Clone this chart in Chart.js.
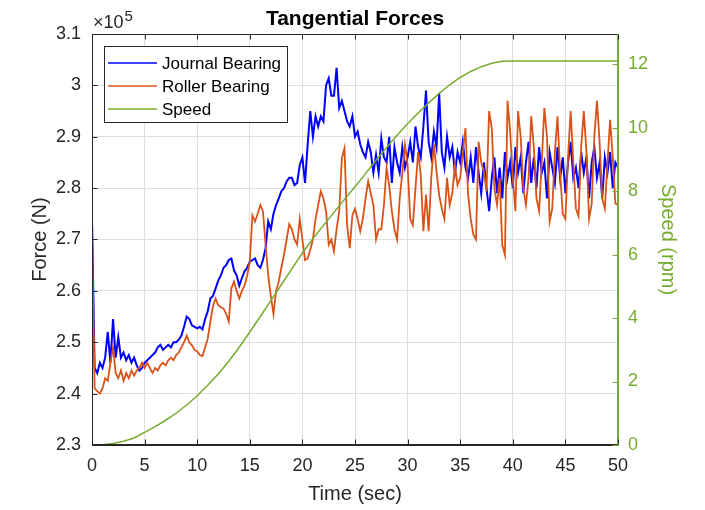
<!DOCTYPE html>
<html>
<head>
<meta charset="utf-8">
<script src="https://cdn.jsdelivr.net/npm/chart.js@4.4.0/dist/chart.umd.min.js"></script>
<style>
  html, body { margin: 0; padding: 0; background: #fff; }
</style>
</head>
<body>
<canvas id="forceChart" width="705" height="510"></canvas>
<script>
// Force samples every 0.25 s, in units of 1e5 N (axis shows x10^5)
const sampleStep = 0.25;
const journalBearing = [
  2.74, 2.45, 2.44, 2.46,     2.45, 2.47, 2.52, 2.46,     2.545, 2.47, 2.51, 2.47,
  2.48, 2.465, 2.475, 2.46,   2.47, 2.455, 2.445, 2.45,   2.46, 2.465, 2.47, 2.475,
  2.48, 2.49, 2.495, 2.485,   2.49, 2.495, 2.49, 2.5,     2.5, 2.505, 2.513, 2.53,
  2.55, 2.545, 2.533, 2.53,   2.527, 2.53, 2.525, 2.545,  2.56, 2.585, 2.59, 2.605,
  2.62, 2.63, 2.645, 2.65,    2.66, 2.663, 2.64, 2.63,    2.61, 2.625, 2.638, 2.645,
  2.657, 2.66, 2.663, 2.65,   2.645, 2.66, 2.683, 2.735,  2.72, 2.75, 2.767, 2.78,
  2.794, 2.8, 2.813, 2.82,    2.82, 2.806, 2.81, 2.845,   2.86, 2.81, 2.885, 2.95,
  2.9, 2.94, 2.92, 2.94,      2.93, 3.0, 3.014, 2.98,     2.98, 3.034, 2.956, 2.97,
  2.95, 2.93, 2.92, 2.94,     2.9, 2.91, 2.885, 2.87,     2.86, 2.89, 2.87, 2.83,
  2.865, 2.83, 2.897, 2.86,   2.85, 2.9, 2.81, 2.88,      2.85, 2.83, 2.88, 2.84,
  2.86, 2.89, 2.85, 2.92,     2.88, 2.86, 2.92, 2.99,     2.89, 2.86, 2.91, 2.88,
  2.985, 2.87, 2.84, 2.9,     2.86, 2.88, 2.83, 2.87,     2.85, 2.89, 2.84, 2.82,
  2.86, 2.81, 2.88, 2.83,     2.79, 2.85, 2.8, 2.755,     2.82, 2.86, 2.79, 2.84,
  2.78, 2.87, 2.82, 2.85,     2.8, 2.88, 2.83, 2.86,      2.79, 2.85, 2.89, 2.81,
  2.86, 2.8, 2.88, 2.83,      2.85, 2.78, 2.87, 2.84,     2.81, 2.88, 2.82, 2.86,
  2.79, 2.85, 2.89, 2.82,     2.84, 2.8, 2.87, 2.83,      2.86, 2.78, 2.85, 2.88,
  2.82, 2.85, 2.78, 2.86,     2.83, 2.87, 2.8, 2.85,
  2.84
];
const rollerBearing = [
  2.72, 2.41, 2.405, 2.4,     2.41, 2.43, 2.425, 2.46,    2.49, 2.44, 2.43, 2.445,
  2.425, 2.44, 2.43, 2.445,   2.435, 2.445, 2.45, 2.46,   2.45, 2.46, 2.45, 2.44,
  2.45, 2.445, 2.455, 2.46,   2.455, 2.465, 2.47, 2.465,  2.475, 2.48, 2.49, 2.5,
  2.513, 2.5, 2.494, 2.485,   2.482, 2.475, 2.473, 2.49,  2.507, 2.54, 2.57, 2.585,
  2.572, 2.568, 2.566, 2.555, 2.54, 2.605, 2.618, 2.6,    2.585, 2.6, 2.61, 2.63,
  2.657, 2.747, 2.735, 2.75,  2.767, 2.755, 2.69, 2.63,   2.59, 2.555, 2.6, 2.618,
  2.645, 2.67, 2.7, 2.73,     2.72, 2.7, 2.69, 2.74,      2.7, 2.66, 2.663, 2.68,
  2.7, 2.74, 2.767, 2.794,    2.78, 2.755, 2.69, 2.7,     2.677, 2.72, 2.755, 2.858,
  2.878, 2.728, 2.683, 2.747, 2.76, 2.74, 2.716, 2.741,   2.78, 2.813, 2.79, 2.767,
  2.7, 2.72, 2.72, 2.767,     2.839, 2.806, 2.755, 2.72,  2.7, 2.78, 2.83, 2.885,
  2.845, 2.74, 2.728, 2.8,    2.87, 2.826, 2.716, 2.787,  2.716, 2.82, 2.885, 2.832,
  2.787, 2.76, 2.74, 2.82,    2.767, 2.79, 2.845, 2.806,  2.82, 2.87, 2.917, 2.787,
  2.74, 2.71, 2.7, 2.89,      2.85, 2.832, 2.794, 2.95,   2.917, 2.8, 2.767, 2.82,
  2.69, 2.67, 2.97, 2.91,     2.82, 2.755, 2.95, 2.9,     2.8, 2.767, 2.82, 2.94,
  2.88, 2.78, 2.755, 2.85,    2.956, 2.9, 2.735, 2.76,    2.87, 2.94, 2.83, 2.75,
  2.74, 2.86, 2.95, 2.85,     2.76, 2.745, 2.88, 2.95,    2.87, 2.74, 2.77, 2.9,
  2.97, 2.89, 2.78, 2.76,     2.85, 2.933, 2.86, 2.77,
  2.767
];
// Speed in rpm, one value per second from 0 to 50 s
const speedRpm = [
  0, 0.01, 0.05, 0.12, 0.22, 0.4, 0.58, 0.78, 1.0, 1.26,
  1.55, 1.88, 2.24, 2.64, 3.08, 3.56, 4.05, 4.55, 5.05, 5.55,
  6.05, 6.5, 6.92, 7.33, 7.74, 8.14, 8.55, 8.97, 9.37, 9.76,
  10.12, 10.46, 10.78, 11.08, 11.35, 11.58, 11.77, 11.92, 12.03, 12.09,
  12.1, 12.1, 12.1, 12.1, 12.1, 12.1, 12.1, 12.1, 12.1, 12.1,
  12.1
];
const seriesNames = ['Journal Bearing', 'Roller Bearing', 'Speed'];
const seriesColors = ['#0000FF', '#D95319', '#77AC30'];
const forceTicks = [2.3, 2.4, 2.5, 2.6, 2.7, 2.8, 2.9, 3.0, 3.1];
const speedTicks = [0, 2, 4, 6, 8, 10, 12];
const timeTicks = [0, 5, 10, 15, 20, 25, 30, 35, 40, 45, 50];

const axisColor = '#262626';
const gridColor = '#dedede';
const fontFamily = '"Liberation Sans", Arial, Helvetica, sans-serif';

function toPoints(values, step) {
  return values.map((v, i) => ({ x: i * step, y: v }));
}

// axes box, inward tick marks, title, exponent and legend, drawn matlab style
const matlabFrame = {
  id: 'matlabFrame',
  afterDatasetsDraw(chart) {
    const { ctx, chartArea: a, scales } = chart;
    const L = Math.round(a.left) + 0.5, R = Math.round(a.right) - 0.5;
    const T = Math.round(a.top) + 0.5, B = Math.round(a.bottom) - 0.5;
    const tl = 5;
    ctx.save();
    ctx.lineWidth = 1;

    ctx.strokeStyle = axisColor;
    ctx.beginPath();
    ctx.moveTo(L, T); ctx.lineTo(R, T);
    ctx.moveTo(L, B); ctx.lineTo(R, B);
    ctx.moveTo(L, T); ctx.lineTo(L, B);
    timeTicks.forEach(t => {
      const x = Math.round(scales.x.getPixelForValue(t)) + 0.5;
      ctx.moveTo(x, B); ctx.lineTo(x, B - tl);
      ctx.moveTo(x, T); ctx.lineTo(x, T + tl);
    });
    forceTicks.forEach(f => {
      const y = Math.round(scales.yForce.getPixelForValue(f)) + 0.5;
      ctx.moveTo(L, y); ctx.lineTo(L + tl, y);
    });
    ctx.stroke();

    ctx.strokeStyle = seriesColors[2];
    ctx.beginPath();
    ctx.moveTo(R, T); ctx.lineTo(R, B);
    speedTicks.forEach(s => {
      const y = Math.round(scales.ySpeed.getPixelForValue(s)) + 0.5;
      ctx.moveTo(R, y); ctx.lineTo(R - tl, y);
    });
    ctx.stroke();
    ctx.restore();
  },
  afterDraw(chart) {
    const { ctx, chartArea: a } = chart;
    ctx.save();

    // title
    ctx.fillStyle = '#000';
    ctx.font = 'bold 21px ' + fontFamily;
    ctx.textAlign = 'center';
    ctx.textBaseline = 'alphabetic';
    ctx.fillText('Tangential Forces', (a.left + a.right) / 2, 25);

    // exponent label
    ctx.fillStyle = axisColor;
    ctx.textAlign = 'left';
    ctx.font = '18px ' + fontFamily;
    ctx.fillText('\u00d710', a.left + 1, 28);
    const w = ctx.measureText('\u00d710').width;
    ctx.font = '15px ' + fontFamily;
    ctx.fillText('5', a.left + 2 + w, 21);

    // legend
    const bx = 104.5, by = 46.5, bw = 183, bh = 76;
    ctx.fillStyle = '#fff';
    ctx.fillRect(bx, by, bw, bh);
    ctx.strokeStyle = axisColor;
    ctx.lineWidth = 1;
    ctx.strokeRect(bx, by, bw, bh);
    ctx.font = '17px ' + fontFamily;
    ctx.textBaseline = 'middle';
    seriesNames.forEach((name, i) => {
      const y = 63 + i * 23;
      ctx.strokeStyle = seriesColors[i];
      ctx.lineWidth = 1.5;
      ctx.beginPath();
      ctx.moveTo(108, y); ctx.lineTo(157, y);
      ctx.stroke();
      ctx.fillStyle = '#000';
      ctx.fillText(name, 162, y + 1);
    });
    ctx.restore();
  }
};

new Chart(document.getElementById('forceChart'), {
  type: 'line',
  data: {
    datasets: [
      {
        label: seriesNames[0],
        data: toPoints(journalBearing, sampleStep),
        yAxisID: 'yForce',
        borderColor: seriesColors[0],
        borderWidth: 2,
        order: 2,
      },
      {
        label: seriesNames[1],
        data: toPoints(rollerBearing, sampleStep),
        yAxisID: 'yForce',
        borderColor: seriesColors[1],
        borderWidth: 1.8,
        order: 1,
      },
      {
        label: seriesNames[2],
        data: toPoints(speedRpm, 1),
        yAxisID: 'ySpeed',
        borderColor: seriesColors[2],
        borderWidth: 1.5,
        order: 0,
      },
    ],
  },
  options: {
    responsive: false,
    animation: false,
    parsing: false,
    elements: { point: { radius: 0 }, line: { tension: 0, fill: false } },
    layout: { padding: { top: 34, left: 0, right: 0, bottom: 0 } },
    plugins: { legend: { display: false }, tooltip: { enabled: false }, title: { display: false } },
    scales: {
      x: {
        type: 'linear',
        min: 0,
        max: 50,
        afterFit: s => { s.height = 65; },
        afterBuildTicks: s => { s.ticks = timeTicks.map(v => ({ value: v })); },
        grid: { color: gridColor, drawTicks: false },
        border: { display: true, color: axisColor },
        ticks: { color: axisColor, padding: 10, maxRotation: 0, font: { family: fontFamily, size: 18 } },
        title: {
          display: true,
          text: 'Time (sec)',
          color: axisColor,
          padding: { top: 4, bottom: 4 },
          font: { family: fontFamily, size: 20 },
        },
      },
      yForce: {
        type: 'linear',
        position: 'left',
        min: 2.3,
        max: 3.1,
        afterFit: s => { s.width = 92; },
        afterBuildTicks: s => { s.ticks = forceTicks.map(v => ({ value: v })); },
        grid: { color: gridColor, drawTicks: false },
        border: { display: true, color: axisColor },
        ticks: {
          color: axisColor,
          padding: 11,
          font: { family: fontFamily, size: 18 },
          callback: v => String(Number(v.toFixed(2))),
        },
        title: {
          display: true,
          text: 'Force (N)',
          color: axisColor,
          padding: { top: 28, bottom: 4 },
          font: { family: fontFamily, size: 20 },
        },
      },
      ySpeed: {
        type: 'linear',
        position: 'right',
        min: 0,
        max: 12.95,
        afterFit: s => { s.width = 87; },
        afterBuildTicks: s => { s.ticks = speedTicks.map(v => ({ value: v })); },
        grid: { display: false, drawTicks: false },
        border: { display: true, color: seriesColors[2] },
        ticks: { color: seriesColors[2], padding: 10, font: { family: fontFamily, size: 18 } },
        title: {
          display: true,
          text: 'Speed (rpm)',
          color: seriesColors[2],
          padding: { top: 25, bottom: 4 },
          font: { family: fontFamily, size: 20 },
        },
      },
    },
  },
  plugins: [matlabFrame],
});
</script>
</body>
</html>
